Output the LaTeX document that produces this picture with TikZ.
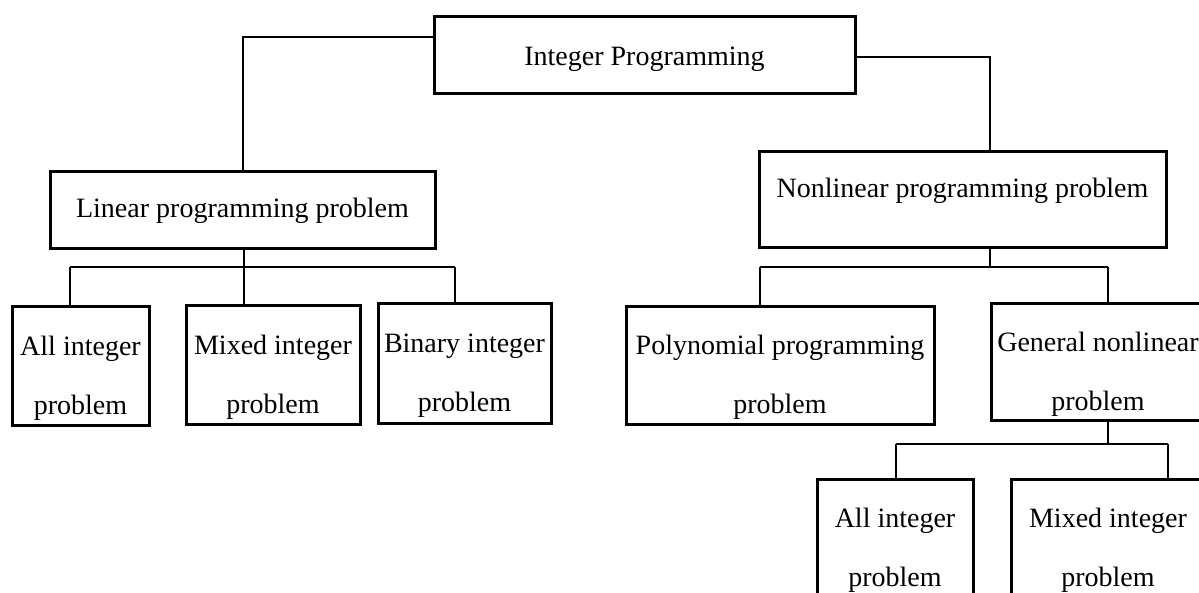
\documentclass[tikz,border=0pt]{standalone}
\usepackage{fontspec}
\setmainfont{Liberation Serif}
\begin{document}
\begin{tikzpicture}[x=1pt,y=-1pt,
  box/.style={draw=black, line width=3pt, inner sep=0pt, align=center,
    font=\fontsize{28}{59}\selectfont},
  twoline/.style={text height=102pt},
  link/.style={draw=black, line width=2.8pt}]
\useasboundingbox[fill=white] (0,0) rectangle (1199,593);
\clip (0,0) rectangle (1199,593);
% boxes
\node[box, minimum width=421pt, minimum height=77pt, text height=27pt] (ip) at (644.5,55.5) {Integer Programming};
\node[box, minimum width=385pt, minimum height=77pt] (lin) at (242.5,210.5) {Linear programming problem};
\node[box, minimum width=407pt, minimum height=96pt, text depth=24pt] (nl) at (962.5,200) {Nonlinear programming problem};
\node[box, twoline, minimum width=137pt, minimum height=118pt] (ai1) at (80.5,366) {All integer\\problem};
\node[box, twoline, minimum width=174pt, minimum height=118pt] (mx1) at (273,365) {Mixed integer\\problem};
\node[box, twoline, minimum width=173pt, minimum height=119pt] (bi1) at (464.5,363.5) {Binary integer\\problem};
\node[box, twoline, minimum width=308pt, minimum height=117pt] (poly) at (780,365.5) {Polynomial programming\\problem};
\node[box, twoline, minimum width=214pt, minimum height=116pt] (gen) at (1098,362) {General nonlinear\\problem};
\node[box, twoline, minimum width=156pt, minimum height=118pt] (ai2) at (895,538) {All integer\\problem};
\node[box, twoline, minimum width=194pt, minimum height=118pt] (mx2) at (1108,538) {Mixed integer\\problem};
% bus points
\coordinate (ja) at (243,37);
\coordinate (jb) at (990,57);
\coordinate (b1) at (70,267);
\coordinate (b2) at (244,267);
\coordinate (b3) at (455,267);
\coordinate (c1) at (760,267);
\coordinate (c2) at (1108,267);
\coordinate (d1) at (896,444);
\coordinate (d2) at (1168,444);
% connectors
\draw[link] (ip.west |- ja) -- (ja) -- (ja |- lin.north);
\draw[link] (ip.east |- jb) -- (jb) -- (jb |- nl.north);
\draw[link] (b2 |- lin.south) -- (b2);
\draw[link] (b1) -- (b3);
\draw[link] (b1) -- (b1 |- ai1.north);
\draw[link] (b2) -- (b2 |- mx1.north);
\draw[link] (b3) -- (b3 |- bi1.north);
\draw[link] (jb |- nl.south) -- (jb |- c1);
\draw[link] (c1) -- (c2);
\draw[link] (c1) -- (c1 |- poly.north);
\draw[link] (c2) -- (c2 |- gen.north);
\draw[link] (c2 |- gen.south) -- (c2 |- d1);
\draw[link] (d1) -- (d2);
\draw[link] (d1) -- (d1 |- ai2.north);
\draw[link] (d2) -- (d2 |- mx2.north);
\end{tikzpicture}
\end{document}
